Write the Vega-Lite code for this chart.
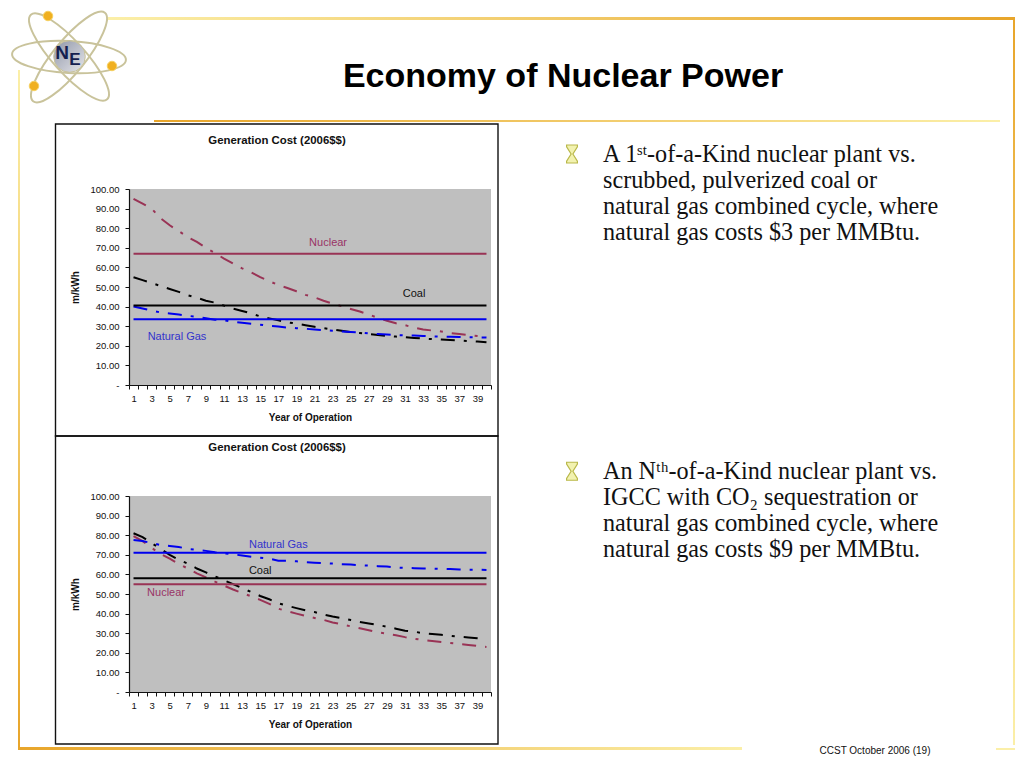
{
"$schema":"https://vega.github.io/schema/vega-lite/v6.json",
"background":"white","padding":0,"autosize":{"type":"pad"},
"config":{"axis":{"grid":false,"labelFont":"Liberation Sans","labelFontSize":9.5,"labelColor":"#111","titleFont":"Liberation Sans","titleFontSize":10,"titleFontWeight":"bold","titleColor":"#111","tickColor":"#111","domainColor":"#111","tickSize":4,"domainWidth":1.2}},
"datasets":{
"first":[
{"year":1,"nuclear":95,"coal":55,"gas":40,"nuclearFlat":67,"coalFlat":40.5,"gasFlat":33.5},
{"year":2,"nuclear":92.5,"coal":53.5,"gas":39,"nuclearFlat":67,"coalFlat":40.5,"gasFlat":33.5},
{"year":3,"nuclear":90,"coal":52,"gas":38,"nuclearFlat":67,"coalFlat":40.5,"gasFlat":33.5},
{"year":4,"nuclear":85,"coal":50.5,"gas":37,"nuclearFlat":67,"coalFlat":40.5,"gasFlat":33.5},
{"year":5,"nuclear":81.5,"coal":49,"gas":36.5,"nuclearFlat":67,"coalFlat":40.5,"gasFlat":33.5},
{"year":6,"nuclear":78.5,"coal":47.5,"gas":36,"nuclearFlat":67,"coalFlat":40.5,"gasFlat":33.5},
{"year":7,"nuclear":75.5,"coal":45.8,"gas":35.3,"nuclearFlat":67,"coalFlat":40.5,"gasFlat":33.5},
{"year":8,"nuclear":73,"coal":44.5,"gas":34.8,"nuclearFlat":67,"coalFlat":40.5,"gasFlat":33.5},
{"year":9,"nuclear":70,"coal":43,"gas":34,"nuclearFlat":67,"coalFlat":40.5,"gasFlat":33.5},
{"year":10,"nuclear":67.3,"coal":42,"gas":33.3,"nuclearFlat":67,"coalFlat":40.5,"gasFlat":33.5},
{"year":11,"nuclear":64.5,"coal":40.5,"gas":33,"nuclearFlat":67,"coalFlat":40.5,"gasFlat":33.5},
{"year":12,"nuclear":62,"coal":39,"gas":32.3,"nuclearFlat":67,"coalFlat":40.5,"gasFlat":33.5},
{"year":13,"nuclear":59.5,"coal":37.8,"gas":31.8,"nuclearFlat":67,"coalFlat":40.5,"gasFlat":33.5},
{"year":14,"nuclear":57.5,"coal":36.5,"gas":31.3,"nuclearFlat":67,"coalFlat":40.5,"gasFlat":33.5},
{"year":15,"nuclear":55,"coal":35,"gas":30.8,"nuclearFlat":67,"coalFlat":40.5,"gasFlat":33.5},
{"year":16,"nuclear":53,"coal":34,"gas":30.2,"nuclearFlat":67,"coalFlat":40.5,"gasFlat":33.5},
{"year":17,"nuclear":51,"coal":33,"gas":29.8,"nuclearFlat":67,"coalFlat":40.5,"gasFlat":33.5},
{"year":18,"nuclear":49.5,"coal":32,"gas":29.3,"nuclearFlat":67,"coalFlat":40.5,"gasFlat":33.5},
{"year":19,"nuclear":47.8,"coal":31.3,"gas":29,"nuclearFlat":67,"coalFlat":40.5,"gasFlat":33.5},
{"year":20,"nuclear":46,"coal":30.5,"gas":28.7,"nuclearFlat":67,"coalFlat":40.5,"gasFlat":33.5},
{"year":21,"nuclear":44.7,"coal":29.7,"gas":28.3,"nuclearFlat":67,"coalFlat":40.5,"gasFlat":33.5},
{"year":22,"nuclear":43,"coal":29,"gas":28,"nuclearFlat":67,"coalFlat":40.5,"gasFlat":33.5},
{"year":23,"nuclear":41.5,"coal":28.3,"gas":27.7,"nuclearFlat":67,"coalFlat":40.5,"gasFlat":33.5},
{"year":24,"nuclear":40.2,"coal":27.7,"gas":27.3,"nuclearFlat":67,"coalFlat":40.5,"gasFlat":33.5},
{"year":25,"nuclear":38.8,"coal":27,"gas":27,"nuclearFlat":67,"coalFlat":40.5,"gasFlat":33.5},
{"year":26,"nuclear":37.5,"coal":26.5,"gas":26.8,"nuclearFlat":67,"coalFlat":40.5,"gasFlat":33.5},
{"year":27,"nuclear":36,"coal":26,"gas":26.3,"nuclearFlat":67,"coalFlat":40.5,"gasFlat":33.5},
{"year":28,"nuclear":34.2,"coal":25.5,"gas":26,"nuclearFlat":67,"coalFlat":40.5,"gasFlat":33.5},
{"year":29,"nuclear":32.8,"coal":25,"gas":25.8,"nuclearFlat":67,"coalFlat":40.5,"gasFlat":33.5},
{"year":30,"nuclear":31.5,"coal":24.7,"gas":25.5,"nuclearFlat":67,"coalFlat":40.5,"gasFlat":33.5},
{"year":31,"nuclear":30.5,"coal":24.4,"gas":25.3,"nuclearFlat":67,"coalFlat":40.5,"gasFlat":33.5},
{"year":32,"nuclear":29.3,"coal":24,"gas":25.2,"nuclearFlat":67,"coalFlat":40.5,"gasFlat":33.5},
{"year":33,"nuclear":28.3,"coal":23.7,"gas":25,"nuclearFlat":67,"coalFlat":40.5,"gasFlat":33.5},
{"year":34,"nuclear":27.8,"coal":23.4,"gas":24.8,"nuclearFlat":67,"coalFlat":40.5,"gasFlat":33.5},
{"year":35,"nuclear":27.3,"coal":23.2,"gas":24.7,"nuclearFlat":67,"coalFlat":40.5,"gasFlat":33.5},
{"year":36,"nuclear":26.5,"coal":23,"gas":24.6,"nuclearFlat":67,"coalFlat":40.5,"gasFlat":33.5},
{"year":37,"nuclear":26,"coal":22.7,"gas":24.5,"nuclearFlat":67,"coalFlat":40.5,"gasFlat":33.5},
{"year":38,"nuclear":25.5,"coal":22.4,"gas":24.4,"nuclearFlat":67,"coalFlat":40.5,"gasFlat":33.5},
{"year":39,"nuclear":25,"coal":22.2,"gas":24.3,"nuclearFlat":67,"coalFlat":40.5,"gasFlat":33.5},
{"year":40,"nuclear":24.5,"coal":21.8,"gas":24.2,"nuclearFlat":67,"coalFlat":40.5,"gasFlat":33.5}
],
"second":[
{"year":1,"nuclear":79.5,"coal":81,"gas":77.5,"nuclearFlat":55,"coalFlat":58,"gasFlat":71},
{"year":2,"nuclear":77,"coal":79,"gas":77,"nuclearFlat":55,"coalFlat":58,"gasFlat":71},
{"year":3,"nuclear":73.5,"coal":76,"gas":76,"nuclearFlat":55,"coalFlat":58,"gasFlat":71},
{"year":4,"nuclear":70.5,"coal":73,"gas":75,"nuclearFlat":55,"coalFlat":58,"gasFlat":71},
{"year":5,"nuclear":68,"coal":70,"gas":74.5,"nuclearFlat":55,"coalFlat":58,"gasFlat":71},
{"year":6,"nuclear":65.3,"coal":67.5,"gas":74,"nuclearFlat":55,"coalFlat":58,"gasFlat":71},
{"year":7,"nuclear":63,"coal":65.5,"gas":73,"nuclearFlat":55,"coalFlat":58,"gasFlat":71},
{"year":8,"nuclear":60.5,"coal":63,"gas":72.5,"nuclearFlat":55,"coalFlat":58,"gasFlat":71},
{"year":9,"nuclear":58.5,"coal":61,"gas":72,"nuclearFlat":55,"coalFlat":58,"gasFlat":71},
{"year":10,"nuclear":56.3,"coal":59,"gas":71.3,"nuclearFlat":55,"coalFlat":58,"gasFlat":71},
{"year":11,"nuclear":54.3,"coal":57,"gas":70.8,"nuclearFlat":55,"coalFlat":58,"gasFlat":71},
{"year":12,"nuclear":52.3,"coal":55,"gas":70.2,"nuclearFlat":55,"coalFlat":58,"gasFlat":71},
{"year":13,"nuclear":50.5,"coal":53,"gas":69.7,"nuclearFlat":55,"coalFlat":58,"gasFlat":71},
{"year":14,"nuclear":48.8,"coal":51,"gas":69,"nuclearFlat":55,"coalFlat":58,"gasFlat":71},
{"year":15,"nuclear":47,"coal":49,"gas":68.5,"nuclearFlat":55,"coalFlat":58,"gasFlat":71},
{"year":16,"nuclear":45,"coal":47.3,"gas":68,"nuclearFlat":55,"coalFlat":58,"gasFlat":71},
{"year":17,"nuclear":42.5,"coal":45.3,"gas":67,"nuclearFlat":55,"coalFlat":58,"gasFlat":71},
{"year":18,"nuclear":41.2,"coal":44,"gas":67,"nuclearFlat":55,"coalFlat":58,"gasFlat":71},
{"year":19,"nuclear":40,"coal":42.8,"gas":66.7,"nuclearFlat":55,"coalFlat":58,"gasFlat":71},
{"year":20,"nuclear":38.8,"coal":41.7,"gas":66.3,"nuclearFlat":55,"coalFlat":58,"gasFlat":71},
{"year":21,"nuclear":37.8,"coal":40.8,"gas":66,"nuclearFlat":55,"coalFlat":58,"gasFlat":71},
{"year":22,"nuclear":36.8,"coal":39.5,"gas":65.8,"nuclearFlat":55,"coalFlat":58,"gasFlat":71},
{"year":23,"nuclear":35.5,"coal":38.5,"gas":65.5,"nuclearFlat":55,"coalFlat":58,"gasFlat":71},
{"year":24,"nuclear":34.5,"coal":37.7,"gas":65.2,"nuclearFlat":55,"coalFlat":58,"gasFlat":71},
{"year":25,"nuclear":33.5,"coal":36.7,"gas":65,"nuclearFlat":55,"coalFlat":58,"gasFlat":71},
{"year":26,"nuclear":32.5,"coal":35.7,"gas":64.7,"nuclearFlat":55,"coalFlat":58,"gasFlat":71},
{"year":27,"nuclear":31.5,"coal":35,"gas":64.5,"nuclearFlat":55,"coalFlat":58,"gasFlat":71},
{"year":28,"nuclear":30.5,"coal":34.2,"gas":64.2,"nuclearFlat":55,"coalFlat":58,"gasFlat":71},
{"year":29,"nuclear":29.7,"coal":33.3,"gas":64,"nuclearFlat":55,"coalFlat":58,"gasFlat":71},
{"year":30,"nuclear":29,"coal":32.3,"gas":63.5,"nuclearFlat":55,"coalFlat":58,"gasFlat":71},
{"year":31,"nuclear":28,"coal":31.3,"gas":63.3,"nuclearFlat":55,"coalFlat":58,"gasFlat":71},
{"year":32,"nuclear":27.2,"coal":30.8,"gas":63.2,"nuclearFlat":55,"coalFlat":58,"gasFlat":71},
{"year":33,"nuclear":26.5,"coal":30,"gas":63,"nuclearFlat":55,"coalFlat":58,"gasFlat":71},
{"year":34,"nuclear":26,"coal":29.6,"gas":63,"nuclearFlat":55,"coalFlat":58,"gasFlat":71},
{"year":35,"nuclear":25.5,"coal":29.2,"gas":62.8,"nuclearFlat":55,"coalFlat":58,"gasFlat":71},
{"year":36,"nuclear":25,"coal":28.7,"gas":62.7,"nuclearFlat":55,"coalFlat":58,"gasFlat":71},
{"year":37,"nuclear":24.5,"coal":28.2,"gas":62.5,"nuclearFlat":55,"coalFlat":58,"gasFlat":71},
{"year":38,"nuclear":24,"coal":27.8,"gas":62.4,"nuclearFlat":55,"coalFlat":58,"gasFlat":71},
{"year":39,"nuclear":23.5,"coal":27.4,"gas":62.4,"nuclearFlat":55,"coalFlat":58,"gasFlat":71},
{"year":40,"nuclear":23,"coal":27,"gas":62.3,"nuclearFlat":55,"coalFlat":58,"gasFlat":71}
]},
"spacing":474,"bounds":"flush",
"hconcat":[
{"spacing":111,"bounds":"flush","vconcat":[
{"width":362,"height":196,"view":{"fill":"#BFBFBF","stroke":null},
"title":{"text":"Generation Cost (2006$$)","font":"Liberation Sans","fontSize":11.4,"fontWeight":"bold","color":"#111","dx":-33,"offset":38,"anchor":"middle","frame":"group"},
"data":{"name":"first"},
"encoding":{"x":{"field":"year","type":"ordinal","title":"Year of Operation","scale":{"type":"band","paddingInner":0,"paddingOuter":0},"axis":{"tickBand":"extent","labelAngle":0,"labelOverlap":false,"labelExpr":"datum.value%2==1?datum.label:''","labelPadding":4,"titlePadding":10}}},
"layer":[
{"mark":{"type":"line","stroke":"#993355","strokeWidth":2,"strokeDash":[14,9,3,9]},"encoding":{"y":{"field":"nuclear","type":"quantitative","title":"m/kWh","scale":{"domain":[0,100],"nice":false},"axis":{"values":[0,10,20,30,40,50,60,70,80,90,100],"tickCount":11,"labelOverlap":false,"labelExpr":"datum.value==0?'-':format(datum.value,'.2f')","labelPadding":6,"titlePadding":9}}}},
{"mark":{"type":"line","stroke":"black","strokeWidth":2,"strokeDash":[14,9,3,9]},"encoding":{"y":{"field":"coal","type":"quantitative","title":"m/kWh"}}},
{"mark":{"type":"line","stroke":"#0000EE","strokeWidth":2,"strokeDash":[14,9,3,9]},"encoding":{"y":{"field":"gas","type":"quantitative","title":"m/kWh"}}},
{"mark":{"type":"line","stroke":"#993355","strokeWidth":2},"encoding":{"y":{"field":"nuclearFlat","type":"quantitative","title":"m/kWh"}}},
{"mark":{"type":"line","stroke":"black","strokeWidth":2},"encoding":{"y":{"field":"coalFlat","type":"quantitative","title":"m/kWh"}}},
{"mark":{"type":"line","stroke":"#0000EE","strokeWidth":2},"encoding":{"y":{"field":"gasFlat","type":"quantitative","title":"m/kWh"}}},
{"data":{"values":[{"year":22,"value":72.4,"label":"Nuclear"}]},"mark":{"type":"text","font":"Liberation Sans","fontSize":11,"color":"#993366","dx":4.5},"encoding":{"y":{"field":"value","type":"quantitative","title":"m/kWh"},"text":{"field":"label"}}},
{"data":{"values":[{"year":32,"value":46.4,"label":"Coal"}]},"mark":{"type":"text","font":"Liberation Sans","fontSize":11,"color":"#111"},"encoding":{"y":{"field":"value","type":"quantitative","title":"m/kWh"},"text":{"field":"label"}}},
{"data":{"values":[{"year":6,"value":24.5,"label":"Natural Gas"}]},"mark":{"type":"text","font":"Liberation Sans","fontSize":11,"color":"#3333CC","dx":-1.8},"encoding":{"y":{"field":"value","type":"quantitative","title":"m/kWh"},"text":{"field":"label"}}}
]},
{"width":362,"height":196,"view":{"fill":"#BFBFBF","stroke":null},
"title":{"text":"Generation Cost (2006$$)","font":"Liberation Sans","fontSize":11.4,"fontWeight":"bold","color":"#111","dx":-33,"offset":38,"anchor":"middle","frame":"group"},
"data":{"name":"second"},
"encoding":{"x":{"field":"year","type":"ordinal","title":"Year of Operation","scale":{"type":"band","paddingInner":0,"paddingOuter":0},"axis":{"tickBand":"extent","labelAngle":0,"labelOverlap":false,"labelExpr":"datum.value%2==1?datum.label:''","labelPadding":4,"titlePadding":10}}},
"layer":[
{"mark":{"type":"line","stroke":"#993355","strokeWidth":2,"strokeDash":[14,9,3,9]},"encoding":{"y":{"field":"nuclear","type":"quantitative","title":"m/kWh","scale":{"domain":[0,100],"nice":false},"axis":{"values":[0,10,20,30,40,50,60,70,80,90,100],"tickCount":11,"labelOverlap":false,"labelExpr":"datum.value==0?'-':format(datum.value,'.2f')","labelPadding":6,"titlePadding":9}}}},
{"mark":{"type":"line","stroke":"black","strokeWidth":2,"strokeDash":[14,9,3,9]},"encoding":{"y":{"field":"coal","type":"quantitative","title":"m/kWh"}}},
{"mark":{"type":"line","stroke":"#0000EE","strokeWidth":2,"strokeDash":[14,9,3,9]},"encoding":{"y":{"field":"gas","type":"quantitative","title":"m/kWh"}}},
{"mark":{"type":"line","stroke":"#993355","strokeWidth":2},"encoding":{"y":{"field":"nuclearFlat","type":"quantitative","title":"m/kWh"}}},
{"mark":{"type":"line","stroke":"black","strokeWidth":2},"encoding":{"y":{"field":"coalFlat","type":"quantitative","title":"m/kWh"}}},
{"mark":{"type":"line","stroke":"#0000EE","strokeWidth":2},"encoding":{"y":{"field":"gasFlat","type":"quantitative","title":"m/kWh"}}},
{"data":{"values":[{"year":5,"value":50.5,"label":"Nuclear"}]},"mark":{"type":"text","font":"Liberation Sans","fontSize":11,"color":"#993366","dx":-3.7},"encoding":{"y":{"field":"value","type":"quantitative","title":"m/kWh"},"text":{"field":"label"}}},
{"data":{"values":[{"year":15,"value":61.7,"label":"Coal"}]},"mark":{"type":"text","font":"Liberation Sans","fontSize":11,"color":"#111"},"encoding":{"y":{"field":"value","type":"quantitative","title":"m/kWh"},"text":{"field":"label"}}},
{"data":{"values":[{"year":17,"value":75,"label":"Natural Gas"}]},"mark":{"type":"text","font":"Liberation Sans","fontSize":11,"color":"#3333CC"},"encoding":{"y":{"field":"value","type":"quantitative","title":"m/kWh"},"text":{"field":"label"}}}
]}
]},
{"width":400,"height":503,"view":{"stroke":null},
"resolve":{"scale":{"y":"independent"}},
"layer":[
{"encoding":{"x":{"field":"x","type":"quantitative","axis":null,"scale":{"domain":[603,1003],"nice":false,"zero":false}},"y":{"field":"y","type":"quantitative","axis":null,"scale":{"domain":[189,692],"nice":false,"zero":false,"reverse":true}},"x2":{"field":"x2"},"y2":{"field":"y2"}},
"layer":[
{"data":{"values":[{"x":0,"x2":1024,"y":0,"y2":768}]},"mark":{"type":"rect","fill":"transparent"}},
{"data":{"values":[{"x":107,"x2":1015,"y":17,"y2":20}]},"mark":{"type":"rect","fill":{"gradient":"linear","x1":0,"x2":1,"y1":0,"y2":0,"stops":[{"offset":0,"color":"#FBEFA8"},{"offset":1,"color":"#E8A52A"}]}}},
{"data":{"values":[{"x":1013,"x2":1015,"y":17,"y2":745}]},"mark":{"type":"rect","fill":{"gradient":"linear","x1":0,"x2":0,"y1":0,"y2":1,"stops":[{"offset":0,"color":"#E8A52A"},{"offset":1,"color":"#FBEFA8"}]}}},
{"data":{"values":[{"x":18,"x2":20,"y":70,"y2":750}]},"mark":{"type":"rect","fill":{"gradient":"linear","x1":0,"x2":0,"y1":0,"y2":1,"stops":[{"offset":0,"color":"#FBEFA8"},{"offset":1,"color":"#E8A52A"}]}}},
{"data":{"values":[{"x":18,"x2":742,"y":747,"y2":750}]},"mark":{"type":"rect","fill":{"gradient":"linear","x1":0,"x2":1,"y1":0,"y2":0,"stops":[{"offset":0,"color":"#E8A52A"},{"offset":1,"color":"#FBEFA8"}]}}},
{"data":{"values":[{"x":996,"x2":1015,"y":748,"y2":750}]},"mark":{"type":"rect","fill":"#FBEFA8"}},
{"data":{"values":[{"x":154,"x2":1000,"y":120,"y2":122}]},"mark":{"type":"rect","fill":{"gradient":"linear","x1":0,"x2":1,"y1":0,"y2":0,"stops":[{"offset":0,"color":"#E8A52A"},{"offset":1,"color":"#FBEFA8"}]}}},
{"data":{"values":[{"x":55.5,"x2":498,"y":124,"y2":436},{"x":55.5,"x2":498,"y":436,"y2":744}]},"mark":{"type":"rect","fill":null,"stroke":"#111","strokeWidth":1.4}},
{"data":{"values":[{"x":69,"y":57}]},"mark":{"type":"point","shape":"M-1,0 A1,0.28 0 1 0 1,0 A1,0.28 0 1 0 -1,0 Z","size":12996,"angle":3,"filled":false,"stroke":"#C9C39B","strokeWidth":2,"opacity":1}},
{"data":{"values":[{"x":69,"y":57}]},"mark":{"type":"point","shape":"M-1,0 A1,0.28 0 1 0 1,0 A1,0.28 0 1 0 -1,0 Z","size":12996,"angle":48,"filled":false,"stroke":"#C9C39B","strokeWidth":2,"opacity":1}},
{"data":{"values":[{"x":69,"y":57}]},"mark":{"type":"point","shape":"M-1,0 A1,0.28 0 1 0 1,0 A1,0.28 0 1 0 -1,0 Z","size":12996,"angle":-51,"filled":false,"stroke":"#C9C39B","strokeWidth":2,"opacity":1}},
{"data":{"values":[{"x":69.5,"y":56.5}]},"mark":{"type":"point","shape":"circle","size":1000,"filled":true,"fill":{"gradient":"linear","x1":0,"x2":1,"y1":0,"y2":1,"stops":[{"offset":0,"color":"#8F96A8"},{"offset":1,"color":"#E6E6EA"}]},"stroke":"#C9C39B","strokeWidth":1,"opacity":1}},
{"data":{"values":[{"x":48,"y":16},{"x":112,"y":66},{"x":34,"y":86}]},"mark":{"type":"point","shape":"circle","size":90,"filled":true,"fill":"#F0B020","stroke":"#F6D060","strokeWidth":1,"opacity":1}},
{"data":{"values":[{"x":62,"y":53,"label":"N"}]},"mark":{"type":"text","font":"Liberation Sans","fontWeight":"bold","fontSize":19,"color":"#14204F"},"encoding":{"text":{"field":"label"},"x2":null,"y2":null}},
{"data":{"values":[{"x":75,"y":60,"label":"E"}]},"mark":{"type":"text","font":"Liberation Sans","fontWeight":"bold","fontSize":17,"color":"#14204F"},"encoding":{"text":{"field":"label"},"x2":null,"y2":null}},
{"data":{"values":[{"x":563,"y":77,"label":"Economy of Nuclear Power"}]},"mark":{"type":"text","font":"Liberation Sans","fontWeight":"bold","fontSize":34,"color":"black"},"encoding":{"text":{"field":"label"},"x2":null,"y2":null}},
{"data":{"values":[{"x":875,"y":751,"label":"CCST October 2006 (19)"}]},"mark":{"type":"text","font":"Liberation Sans","fontSize":10,"color":"#111"},"encoding":{"text":{"field":"label"},"x2":null,"y2":null}}
]},
{"encoding":{"y":{"field":"line","type":"quantitative","axis":null,"scale":{"domain":[2.346,21.69],"nice":false,"zero":false,"reverse":true}}},
"layer":[
{"data":{"values":[{"line":1},{"line":13.2}]},"mark":{"type":"point","shape":"M-0.6,-1 L0.6,-1 L0.6,-0.8 L0.1,0 L0.6,0.8 L0.6,1 L-0.6,1 L-0.6,0.8 L-0.1,0 L-0.6,-0.8 Z","size":324,"filled":true,"fill":"#F2F2B0","stroke":"#B9B84A","strokeWidth":1.2,"opacity":1,"x":-31}},
{"data":{"values":[
{"line":1,"text":"A 1ˢᵗ-of-a-Kind nuclear plant vs."},
{"line":2,"text":"scrubbed, pulverized coal or"},
{"line":3,"text":"natural gas combined cycle, where"},
{"line":4,"text":"natural gas costs $3 per MMBtu."},
{"line":13.2,"text":"An Nᵗʰ-of-a-Kind nuclear plant vs."},
{"line":14.2,"text":"IGCC with CO₂ sequestration or"},
{"line":15.2,"text":"natural gas combined cycle, where"},
{"line":16.2,"text":"natural gas costs $9 per MMBtu."}
]},"mark":{"type":"text","font":"Liberation Serif","fontSize":24.2,"color":"#111","align":"left","x":0,"dy":1},"encoding":{"text":{"field":"text"}}}
]}
]}
]
}
